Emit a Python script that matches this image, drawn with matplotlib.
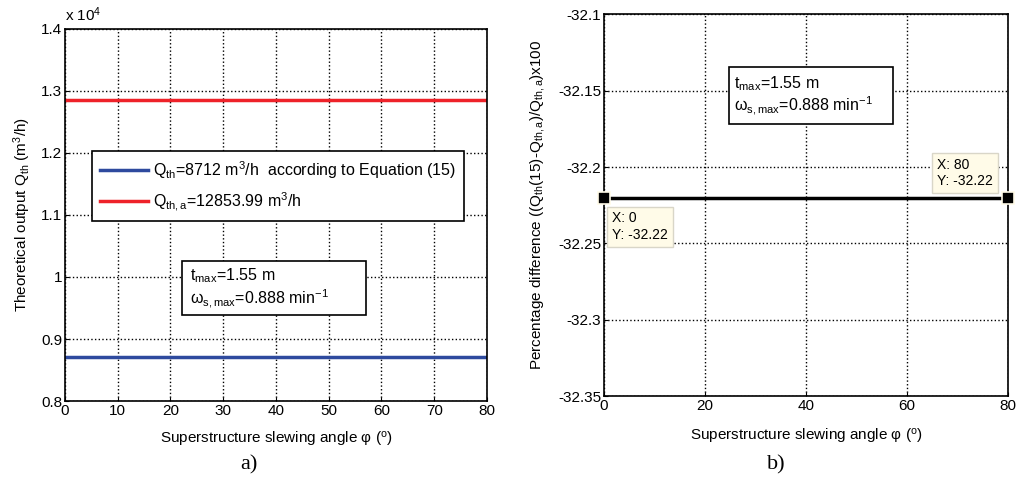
import matplotlib.pyplot as plt
from matplotlib.patches import Rectangle

plt.rcParams['font.family'] = 'Liberation Sans'
plt.rcParams['font.size'] = 11
plt.rcParams['mathtext.fontset'] = 'custom'
plt.rcParams['mathtext.rm'] = 'Liberation Sans'
plt.rcParams['mathtext.it'] = 'Liberation Sans:italic'
plt.rcParams['mathtext.default'] = 'rm'

# slewing angle (deg)
angle = [0, 80]
# theoretical output, x 10^4 m3/h
q_th = [0.8712, 0.8712]
q_th_a = [1.285399, 1.285399]
# percentage difference
pct_diff = [-32.22, -32.22]

xticks_a = [0, 10, 20, 30, 40, 50, 60, 70, 80]
yticks_a = [0.8, 0.9, 1.0, 1.1, 1.2, 1.3, 1.4]
yticklabels_a = ['0.8', '0.9', '1', '1.1', '1.2', '1.3', '1.4']
xticks_b = [0, 20, 40, 60, 80]
yticks_b = [-32.35, -32.3, -32.25, -32.2, -32.15, -32.1]
yticklabels_b = ['-32.35', '-32.3', '-32.25', '-32.2', '-32.15', '-32.1']

info = 't$_{max}$=1.55 m\n$\\omega_{s,max}$=0.888 min$^{-1}$'

fig = plt.figure(figsize=(10.23, 4.82), dpi=100)
ax1 = fig.add_axes([0.0635, 0.168, 0.4125, 0.772])
ax2 = fig.add_axes([0.5904, 0.178, 0.395, 0.7925])

for ax in (ax1, ax2):
    ax.grid(True, color='black', linestyle=':', linewidth=1.0)
    ax.tick_params(direction='in', length=3, colors='black', labelsize=11, pad=2)
    for s in ax.spines.values():
        s.set_linewidth(1.2)


def info_box(ax, x0, y0, x1, y1, tx):
    ax.add_patch(Rectangle((x0, y0), x1 - x0, y1 - y0, transform=ax.transAxes,
                           facecolor='white', edgecolor='black', linewidth=1.2, zorder=4))
    ax.text(tx, (y0 + y1) / 2, info, transform=ax.transAxes, fontsize=11.5,
            va='center', ha='left', linespacing=1.1, zorder=5)


# panel a
ax1.plot(angle, q_th, color='#2e4a9e', linewidth=2.5,
         label='Q$_{th}$=8712 m$^3$/h  according to Equation (15)')
ax1.plot(angle, q_th_a, color='#ee2229', linewidth=2.5,
         label='Q$_{th,a}$=12853.99 m$^3$/h')
ax1.set_xlim(0, 80)
ax1.set_ylim(0.8, 1.4)
ax1.set_xticks(xticks_a)
ax1.set_yticks(yticks_a)
ax1.set_yticklabels(yticklabels_a)
ax1.set_xlabel('Superstructure slewing angle φ ($^{\\rm o}$)', labelpad=9)
ax1.set_ylabel('Theoretical output Q$_{th}$ (m$^3$/h)', labelpad=6)
ax1.text(0.0, 1.012, 'x 10$^4$', transform=ax1.transAxes, fontsize=11,
         va='bottom', ha='left')
leg = ax1.legend(loc='upper left', bbox_to_anchor=(0.064, 0.672),
                 borderaxespad=0, fancybox=False, edgecolor='black', framealpha=1,
                 handlelength=3.0, handletextpad=0.3, borderpad=0.5,
                 labelspacing=0.6, fontsize=11.5)
leg.get_frame().set_linewidth(1.2)
info_box(ax1, 0.277, 0.231, 0.713, 0.376, 0.296)

# panel b
ax2.plot(angle, pct_diff, color='black', linewidth=2.5)
ax2.plot(angle, pct_diff, linestyle='none', marker='s', markersize=8,
         markerfacecolor='black', markeredgecolor='#fffbe8', markeredgewidth=1.2,
         clip_on=False, zorder=5)
ax2.set_xlim(0, 80)
ax2.set_ylim(-32.35, -32.1)
ax2.set_xticks(xticks_b)
ax2.set_yticks(yticks_b)
ax2.set_yticklabels(yticklabels_b)
ax2.set_xlabel('Superstructure slewing angle φ ($^{\\rm o}$)', labelpad=10)
ax2.set_ylabel('Percentage difference ((Q$_{th}$(15)-Q$_{th,a}$)/Q$_{th,a}$)x100', labelpad=8)
info_box(ax2, 0.309, 0.712, 0.715, 0.861, 0.322)
tip = dict(boxstyle='square,pad=0.35', facecolor='#fffbe8', edgecolor='#d9d6c8', linewidth=1.0)
ax2.annotate('X: %g\nY: %.2f' % (angle[0], pct_diff[0]), xy=(angle[0], pct_diff[0]),
             xytext=(6, -10), textcoords='offset points', fontsize=10,
             va='top', ha='left', bbox=tip)
ax2.annotate('X: %g\nY: %.2f' % (angle[1], pct_diff[1]), xy=(angle[1], pct_diff[1]),
             xytext=(-51, 7), textcoords='offset points', fontsize=10,
             va='bottom', ha='left', bbox=tip)

fig.text(0.243, 0.025, 'a)', family='Liberation Serif', fontsize=16, ha='center')
fig.text(0.759, 0.025, 'b)', family='Liberation Serif', fontsize=16, ha='center')

fig.savefig('out.png', dpi=100)
